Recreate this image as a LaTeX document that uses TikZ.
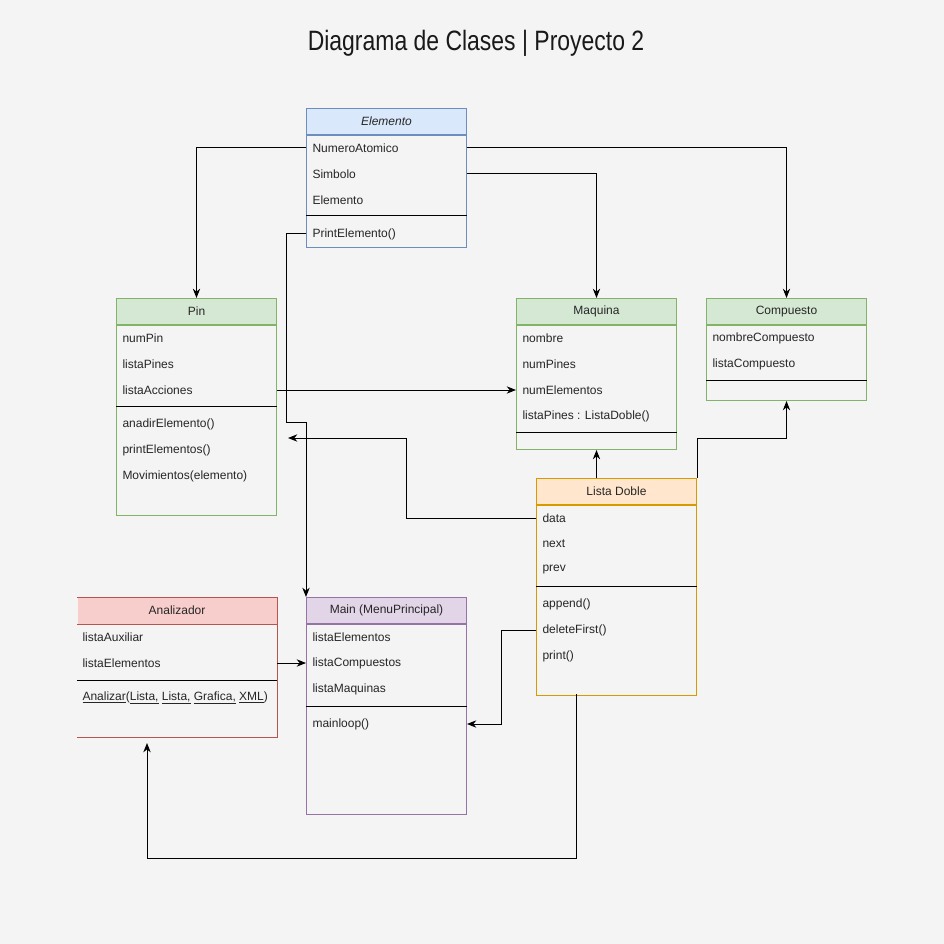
\documentclass[tikz,border=0pt]{standalone}
\usepackage{fontspec}
\setmainfont{Liberation Sans}
\usepackage{xcolor}
\usetikzlibrary{arrows.meta}
\definecolor{bg}{HTML}{F4F4F4}
\definecolor{blueF}{HTML}{DAE8FC}\definecolor{blueD}{HTML}{6C8EBF}
\definecolor{greenF}{HTML}{D5E8D4}\definecolor{greenD}{HTML}{82B366}
\definecolor{orangeF}{HTML}{FFE6CC}\definecolor{orangeD}{HTML}{D79B00}
\definecolor{redF}{HTML}{F8CECC}\definecolor{redD}{HTML}{B85450}
\definecolor{purpleF}{HTML}{E1D5E7}\definecolor{purpleD}{HTML}{9673A6}
\begin{document}
\begin{tikzpicture}[x=0.75pt,y=-0.75pt,line width=0.75pt,
  head/.style={draw, minimum width=120pt, minimum height=19.5pt, inner sep=0, anchor=north west, font=\fontsize{9}{11}\selectfont, text=black!85},
  body/.style={draw, minimum width=120pt, inner sep=0, anchor=north},
  row/.style={anchor=west, inner sep=0, yshift=-0.75pt, font=\fontsize{9}{11}\selectfont, text=black!85},
  arr/.style={-{Stealth[length=7pt,width=5.5pt]}}]
\fill[bg] (0,0) rectangle (944,944);
\useasboundingbox (0,0) rectangle (944,944);
\node[text=black!90] (title) at (476,43) {\scalebox{0.82}[1]{\fontsize{21}{25}\selectfont Diagrama de Clases | Proyecto 2}};

% Elemento
\node[head, fill=blueF, draw=blueD, font=\fontsize{9}{11}\selectfont\itshape] (elemH) at (306,108) {Elemento};
\node[body, draw=blueD, minimum height=84pt] (elem) at (elemH.south) {};
\foreach \t [count=\i] in {NumeroAtomico,Simbolo,Elemento}
  \node[row] (elem\i) at (312,121+26*\i) {\t};
\draw (elem.west |- 0,216) -- (elem.east |- 0,216);
\node[row] (elem4) at (312,233) {PrintElemento()};

% Pin
\node[head, fill=greenF, draw=greenD] (pinH) at (116,298) {Pin};
\node[body, draw=greenD, minimum height=142.5pt] (pin) at (pinH.south) {};
\foreach \t [count=\i] in {numPin,listaPines,listaAcciones}
  \node[row] (pin\i) at (122,311+26*\i) {\t};
\draw (pin.west |- 0,406) -- (pin.east |- 0,406);
\foreach \t [count=\i from 4] in {anadirElemento(),printElementos(),Movimientos(elemento)}
  \node[row] (pin\i) at (122,319+26*\i) {\t};

% Maquina
\node[head, fill=greenF, draw=greenD] (maqH) at (516,298) {Maquina};
\node[body, draw=greenD, minimum height=93pt] (maq) at (maqH.south) {};
\foreach \t [count=\i] in {nombre,numPines,numElementos,listaPines : ListaDoble()}
  \node[row] (maq\i) at (522,311+26*\i) {\t};
\draw (maq.west |- 0,432) -- (maq.east |- 0,432);

% Compuesto
\node[head, fill=greenF, draw=greenD] (compH) at (706,298) {Compuesto};
\node[body, draw=greenD, minimum height=56.25pt] (comp) at (compH.south) {};
\foreach \t [count=\i] in {nombreCompuesto,listaCompuesto}
  \node[row] (comp\i) at (712,311+26*\i) {\t};
\draw (comp.west |- 0,380) -- (comp.east |- 0,380);

% Lista Doble
\node[head, fill=orangeF, draw=orangeD] (ldH) at (536,478) {Lista Doble};
\node[body, draw=orangeD, minimum height=142.5pt] (ld) at (ldH.south) {};
\foreach \t [count=\i] in {data,next,prev}
  \node[row] (ld\i) at (542,491+26*\i) {\t};
\draw (ld.west |- 0,586) -- (ld.east |- 0,586);
\foreach \t [count=\i from 4] in {append(),deleteFirst(),print()}
  \node[row] (ld\i) at (542,499+26*\i) {\t};

% Analizador
\node[head, fill=redF, draw=none, minimum width=149.25pt] (anaH) at (77,597) {Analizador};
\node[body, draw=none, minimum width=149.25pt, minimum height=84pt] (ana) at (anaH.south) {};
\draw[redD] (anaH.north west) -- (anaH.north east) -- (ana.south east) -- (ana.south west);
\draw[redD] (anaH.south west) -- (anaH.south east);
\foreach \t [count=\i] in {listaAuxiliar,listaElementos}
  \node[row] (ana\i) at (82,610+26*\i) {\t};
\draw (ana.west |- 0,680) -- (ana.east |- 0,680);
\node[row] (ana3) at (82,697) {\underline{Analizar}(\underline{Lista,} \underline{Lista,} \underline{Grafica,} \underline{XML})};

% Main
\node[head, fill=purpleF, draw=purpleD] (mainH) at (306,597) {Main (MenuPrincipal)};
\node[body, draw=purpleD, minimum height=142.5pt] (main) at (mainH.south) {};
\foreach \t [count=\i] in {listaElementos,listaCompuestos,listaMaquinas}
  \node[row] (main\i) at (312,610+26*\i) {\t};
\draw (main.west |- 0,706) -- (main.east |- 0,706);
\node[row] (main4) at (312,723) {mainloop()};

% relaciones
\coordinate (bend) at (286,422);
\coordinate (pinin) at (288,438);
\coordinate (ldout) at (576,694);
\coordinate (anain) at (147,743);
\draw[arr] (elem1.west -| elem.west) -| (pinH.north);
\draw[arr] (elem1.west -| elem.east) -| (compH.north);
\draw[arr] (elem2.west -| elem.east) -| (maqH.north);
\draw[arr] (elem4.west -| elem.west) -| (bend) -- (bend -| main.west) -- (mainH.north west);
\draw[arr] (pin3.west -| pin.east) -- (maq3.west -| maq.west);
\draw[arr] (ld1.west -| ld.west) -- ++(-130,0) |- (pinin);
\draw[arr] (maq.south |- ldH.north) -- (maq.south);
\draw[arr] (ldH.north east) -- ++(0,-40) -| (comp.south);
\draw[arr] (ld5.west -| ld.west) -- ++(-35,0) |- (main4.west -| main.east);
\draw[arr] (ldout) -- (576,858) -| (anain);
\draw[arr] (ana2.west -| ana.east) -- (main2.west -| main.west);
\end{tikzpicture}
\end{document}
